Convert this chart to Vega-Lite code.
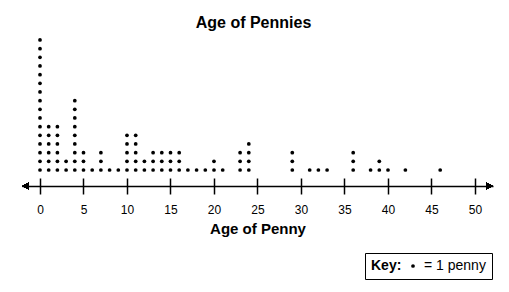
{
  "$schema": "https://vega.github.io/schema/vega-lite/v6.json",
  "width": 471,
  "height": 156,
  "autosize": {"type": "none"},
  "padding": {"left": 22, "top": 30, "right": 16, "bottom": 106},
  "background": "white",
  "config": {"view": {"stroke": null}, "font": "Liberation Sans"},
  "title": {"text": "Age of Pennies", "fontSize": 16, "fontWeight": "bold", "font": "Liberation Sans", "color": "black", "baseline": "alphabetic", "offset": -14, "dx": -4},
  "data": {"values": [
    {"age":0},{"age":0},{"age":0},{"age":0},{"age":0},{"age":0},{"age":0},{"age":0},{"age":0},{"age":0},{"age":0},{"age":0},{"age":0},{"age":0},{"age":0},{"age":0},
    {"age":1},{"age":1},{"age":1},{"age":1},{"age":1},{"age":1},
    {"age":2},{"age":2},{"age":2},{"age":2},{"age":2},{"age":2},
    {"age":3},{"age":3},
    {"age":4},{"age":4},{"age":4},{"age":4},{"age":4},{"age":4},{"age":4},{"age":4},{"age":4},
    {"age":5},{"age":5},{"age":5},
    {"age":6},
    {"age":7},{"age":7},{"age":7},
    {"age":8},
    {"age":9},
    {"age":10},{"age":10},{"age":10},{"age":10},{"age":10},
    {"age":11},{"age":11},{"age":11},{"age":11},{"age":11},
    {"age":12},{"age":12},
    {"age":13},{"age":13},{"age":13},
    {"age":14},{"age":14},{"age":14},
    {"age":15},{"age":15},{"age":15},
    {"age":16},{"age":16},{"age":16},
    {"age":17},
    {"age":18},
    {"age":19},
    {"age":20},{"age":20},
    {"age":21},
    {"age":23},{"age":23},{"age":23},
    {"age":24},{"age":24},{"age":24},{"age":24},
    {"age":29},{"age":29},{"age":29},
    {"age":31},
    {"age":32},
    {"age":33},
    {"age":36},{"age":36},{"age":36},
    {"age":38},
    {"age":39},{"age":39},
    {"age":40},
    {"age":42},
    {"age":46}
  ]},
  "layer": [
    {
      "transform": [
        {"window": [{"op": "row_number", "as": "stack"}], "groupby": ["age"]}
      ],
      "mark": {"type": "circle", "size": 14, "opacity": 1},
      "encoding": {
        "x": {
          "field": "age", "type": "quantitative",
          "scale": {"domain": [-2.069, 52.07], "nice": false, "zero": false},
          "axis": {
            "values": [0,5,10,15,20,25,30,35,40,45,50],
            "domain": false, "tickSize": 16, "offset": -8, "tickWidth": 1.5, "tickColor": "black",
            "labelPadding": 10, "labelFontSize": 12, "labelColor": "black", "labelFont": "Liberation Sans",
            "grid": false,
            "title": "Age of Penny", "titleFontSize": 15, "titleFontWeight": "bold", "titleColor": "black", "titleFont": "Liberation Sans", "titlePadding": 6
          }
        },
        "y": {
          "field": "stack", "type": "quantitative",
          "scale": {"domain": [-0.846, 17.15], "nice": false, "zero": false},
          "axis": {"values": [-0.846], "grid": true, "gridColor": "black", "gridWidth": 1.5, "gridOpacity": 1, "domain": false, "ticks": false, "labels": false, "title": null}
        },
        "color": {
          "datum": "= 1 penny",
          "type": "nominal",
          "scale": {"range": ["black"]},
          "legend": {
            "orient": "none", "legendX": 343, "legendY": 223,
            "title": "Key:", "titleOrient": "left", "titleFontSize": 14, "titleFontWeight": "bold", "titleColor": "black", "titleFont": "Liberation Sans",
            "labelFontSize": 14, "labelColor": "black", "labelFont": "Liberation Sans",
            "symbolType": "circle", "symbolSize": 14, "symbolStrokeWidth": 0,
            "strokeColor": "black", "padding": 6, "titlePadding": 4, "labelOffset": 4
          }
        }
      }
    },
    {
      "mark": {"type": "point", "shape": "triangle-left", "filled": true, "color": "black", "size": 45, "opacity": 1},
      "encoding": {
        "x": {"datum": -1.65, "type": "quantitative"},
        "y": {"datum": -0.846, "type": "quantitative"}
      }
    },
    {
      "mark": {"type": "point", "shape": "triangle-right", "filled": true, "color": "black", "size": 45, "opacity": 1},
      "encoding": {
        "x": {"datum": 51.65, "type": "quantitative"},
        "y": {"datum": -0.846, "type": "quantitative"}
      }
    }
  ]
}
